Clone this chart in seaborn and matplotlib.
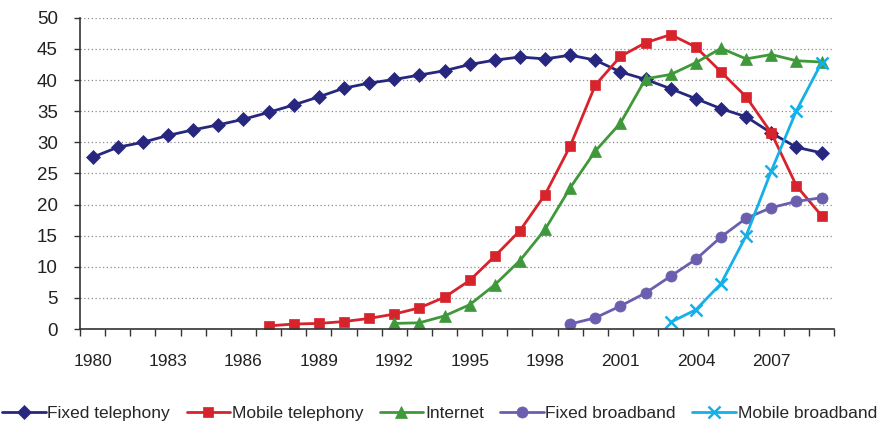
import numpy as np
import pandas as pd
import seaborn as sns
import matplotlib.pyplot as plt

years = list(range(1980, 2010))

fixed_tel = [27.6, 29.2, 30.0, 31.1, 32.0, 32.8, 33.7, 34.8, 36.0, 37.3,
             38.7, 39.5, 40.1, 40.8, 41.5, 42.5, 43.2, 43.7, 43.4, 44.0,
             43.2, 41.3, 40.1, 38.6, 37.0, 35.4, 34.1, 31.5, 29.2, 28.3]
mobile_tel_start = 1987
mobile_tel = [0.5, 0.8, 0.9, 1.2, 1.7, 2.4, 3.4, 5.1, 7.8, 11.7,
              15.8, 21.6, 29.4, 39.2, 43.8, 46.0, 47.3, 45.3, 41.3, 37.3,
              31.5, 23.0, 18.2]
internet_start = 1992
internet = [0.9, 1.0, 2.1, 3.9, 7.1, 11.0, 16.0, 22.7, 28.6, 33.1,
            40.2, 40.9, 42.8, 45.1, 43.4, 44.1, 43.1, 42.9]
fixed_bb_start = 1999
fixed_bb = [0.8, 1.8, 3.7, 5.8, 8.5, 11.2, 14.8, 17.8, 19.5, 20.5, 21.1]
mobile_bb_start = 2003
mobile_bb = [1.1, 3.1, 7.3, 15.0, 25.4, 35.1, 42.8]

tick_years = list(range(1980, 2010, 3))

series = [
    ("Fixed telephony", 1980, fixed_tel, "#27277f", "D", 7.5),
    ("Mobile telephony", mobile_tel_start, mobile_tel, "#d7232b", "s", 7),
    ("Internet", internet_start, internet, "#3f983a", "^", 8),
    ("Fixed broadband", fixed_bb_start, fixed_bb, "#6a5fae", "o", 8),
    ("Mobile broadband", mobile_bb_start, mobile_bb, "#14b0e8", "x", 9),
]

sns.set_style("white")
plt.rcParams['font.family'] = ['Liberation Sans', 'DejaVu Sans']

fig, ax = plt.subplots(figsize=(8.79, 4.24), dpi=100)
fig.subplots_adjust(left=0.091, right=0.949, top=0.958, bottom=0.224)

for name, start, vals, col, mk, ms in series:
    df = pd.DataFrame({"pos": [start - 1980 + i for i in range(len(vals))],
                       "value": vals})
    sns.lineplot(data=df, x="pos", y="value", ax=ax, color=col, marker=mk,
                 markersize=ms, markeredgecolor=col,
                 markeredgewidth=1.8 if mk == "x" else 0.5,
                 linewidth=2, label=name)

ax.set_xlim(-0.5, len(years) - 0.5)
ax.set_ylim(0, 50)
ax.set_yticks(range(0, 51, 5))
ax.yaxis.grid(True, linestyle=(0, (1, 2)), color="#8c8c8c", linewidth=0.9)
ax.xaxis.grid(False)

ax.set_xticks([y - 1980 for y in tick_years])
ax.set_xticklabels([str(y) for y in tick_years])
ax.set_xticks(np.arange(-0.5, len(years), 1), minor=True)
ax.tick_params(axis="x", which="major", length=0, pad=18, labelsize=12.5,
               labelcolor="#222222")
ax.tick_params(axis="x", which="minor", length=5, width=1, color="#333333",
               direction="out", bottom=True)
ax.tick_params(axis="y", length=4, width=1, color="#333333", direction="out",
               left=True, labelsize=13.5, labelcolor="#222222", pad=12)

for s in ["top", "right"]:
    ax.spines[s].set_visible(False)
for s in ["left", "bottom"]:
    ax.spines[s].set_color("#333333")
    ax.spines[s].set_linewidth(1.2)

ax.set_xlabel("")
ax.set_ylabel("")

handles, labels = ax.get_legend_handles_labels()
ax.legend_.remove()
fig.legend(handles, labels, loc="lower center", bbox_to_anchor=(0.5, -0.03),
           ncol=5, frameon=False, fontsize=12.5, handlelength=2.5,
           handletextpad=0.1, columnspacing=0.95)

fig.savefig("out.png", dpi=100)
